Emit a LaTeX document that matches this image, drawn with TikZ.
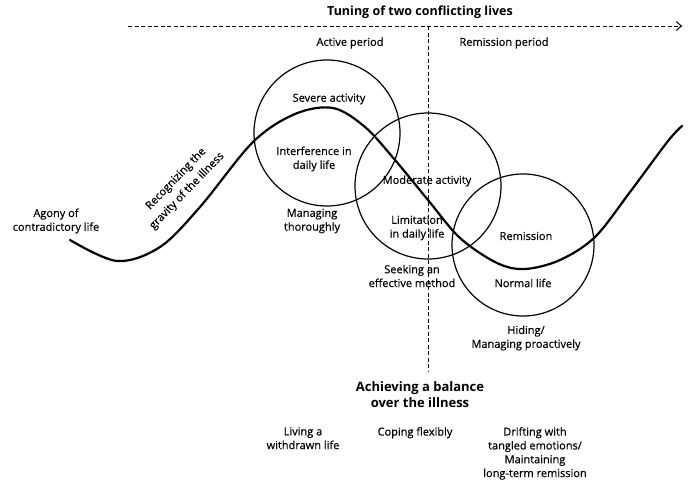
\documentclass[tikz,border=0pt]{standalone}
\usepackage{fontspec}
\setmainfont{Open Sans}[UprightFeatures={FakeBold=0.5}]
\usetikzlibrary{arrows.meta}
\begin{document}
\begin{tikzpicture}[x=1pt,y=-1pt,>=stealth,
    lbl/.style={font=\fontsize{11}{13.8}\selectfont,align=center,inner sep=0pt},
    head/.style={font=\fontsize{13}{16}\selectfont\bfseries,align=center,inner sep=0pt},
    dashline/.style={dash pattern=on 4pt off 2.5pt,line width=0.9pt},
    ring/.style={line width=1.2pt}]
    \useasboundingbox (0,0) rectangle (688,482);
    % Trục thời gian
    \coordinate (tstart) at (128,26);
    \coordinate (tend) at (682,26);
    \coordinate (split) at (428,26);
    \coordinate (splitend) at (428,372);
    \draw[dashline,-{Straight Barb[length=5pt,width=9pt,line width=1pt]}] (tstart) -- (tend);
    \draw[dashline] (split) -- (splitend);
    \node[head,font=\fontsize{12.5}{15}\selectfont\bfseries] (tuning) at (420,12) {Tuning of two conflicting lives};
    \node[lbl] (active) at (350,43) {Active period};
    \node[lbl] (remper) at (504,43) {Remission period};
    % Ba vòng tròn
    \coordinate (csevere) at (327,133);
    \coordinate (cmoder) at (428,186);
    \coordinate (cremis) at (523,245);
    \draw[ring] (csevere) circle[radius=73];
    \draw[ring] (cmoder) circle[radius=73];
    \draw[ring] (cremis) circle[radius=71];
    % Đường cong
    \draw[line width=2.2pt,line cap=round] plot[smooth,tension=0.55] coordinates {
        (70,240) (117,261) (160,247) (200,207) (253,142) (295,114) (333,108)
        (365,127) (395,160) (428,200) (460,238) (497,263) (525,269) (560,260)
        (595,237) (630,192) (668,141) (682,126)};
    % Nhãn
    \node[lbl] (agony) at (56,221) {Agony of\\contradictory life};
    \node[lbl,rotate=46] (recog) at (176,179) {Recognizing the};
    \node[lbl,rotate=46] (gravity) at (187,191) {gravity of the illness};
    \node[lbl] (severe) at (329,99) {Severe activity};
    \node[lbl] (interf) at (314,159) {Interference in\\daily life};
    \node[lbl] (thorough) at (312,221) {Managing\\thoroughly};
    \node[lbl] (moder) at (427,181) {Moderate activity};
    \node[lbl] (limit) at (417,228) {Limitation\\in daily life};
    \node[lbl] (seek) at (412,276) {Seeking an\\effective method};
    \node[lbl] (remis) at (526,236) {Remission};
    \node[lbl] (normal) at (523,283) {Normal life};
    \node[lbl] (hiding) at (526,338) {Hiding/\\Managing proactively};
    \node[head] (balance) at (420,395) {Achieving a balance\\over the illness};
    \node[lbl,anchor=north] (withdrawn) at (303,427) {Living a\\withdrawn life};
    \node[lbl,anchor=north] (coping) at (415,427) {Coping flexibly};
    \node[lbl,anchor=north] (drifting) at (535,427) {Drifting with\\tangled emotions/\\Maintaining\\long-term remission};
\end{tikzpicture}
\end{document}
